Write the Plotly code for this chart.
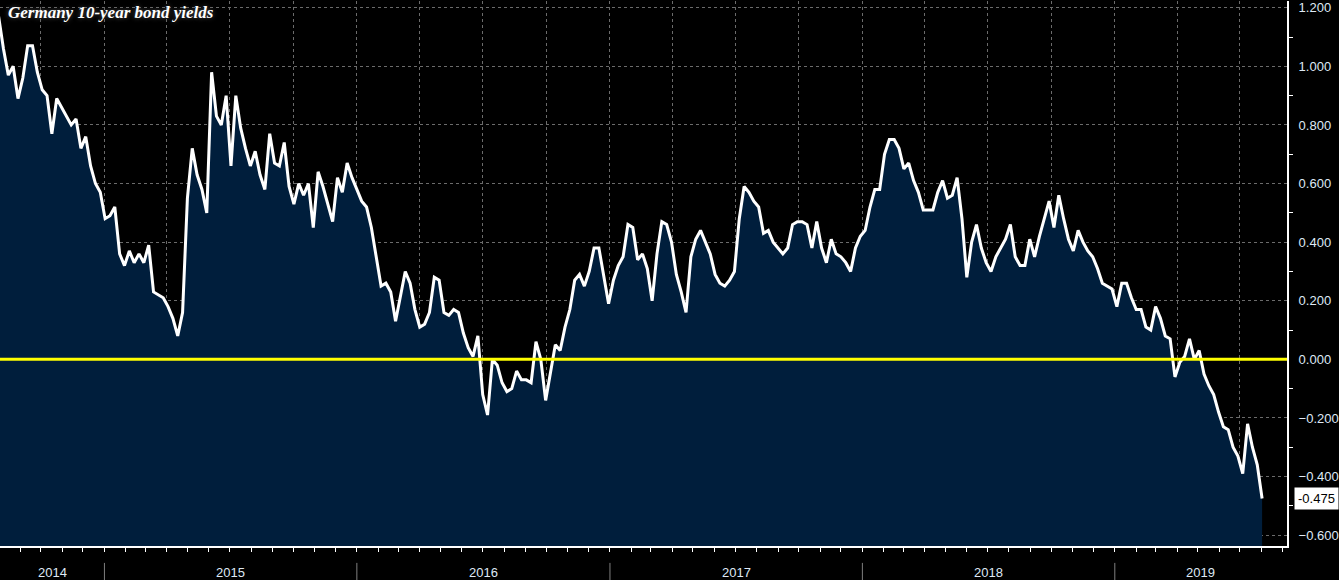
import pandas as pd
import plotly.graph_objects as go

title_text = "Germany 10-year bond yields"

# weekly (Friday) readings of the yield, in %
yields_2014 = [1.17, 1.06, 0.97, 1.00, 0.89, 0.96, 1.07, 1.07, 0.98, 0.92,
               0.90, 0.77, 0.89, 0.86, 0.83, 0.80, 0.82, 0.72, 0.76, 0.66,
               0.60, 0.57]
yields_2015 = [0.48, 0.49, 0.52, 0.36, 0.32, 0.37, 0.33, 0.36, 0.33, 0.39,
               0.23, 0.22, 0.21, 0.18, 0.14, 0.08, 0.16, 0.55, 0.72, 0.63,
               0.58, 0.50, 0.98, 0.83, 0.80, 0.90, 0.66, 0.90, 0.79, 0.72,
               0.66, 0.71, 0.63, 0.58, 0.77, 0.67, 0.66, 0.74, 0.59, 0.53,
               0.60, 0.56, 0.60, 0.45, 0.64, 0.59, 0.53, 0.47, 0.62, 0.57,
               0.67, 0.62]
yields_2016 = [0.58, 0.54, 0.52, 0.45, 0.35, 0.25, 0.26, 0.23, 0.13, 0.21,
               0.30, 0.26, 0.17, 0.11, 0.12, 0.16, 0.28, 0.27, 0.16, 0.15,
               0.17, 0.16, 0.09, 0.04, 0.01, 0.08, -0.12, -0.19, 0.00, -0.02,
               -0.08, -0.11, -0.10, -0.04, -0.07, -0.07, -0.08, 0.06, 0.00, -0.14,
               -0.05, 0.05, 0.03, 0.11, 0.17, 0.27, 0.29, 0.25, 0.30, 0.38,
               0.38, 0.28, 0.19]
yields_2017 = [0.27, 0.32, 0.35, 0.46, 0.45, 0.34, 0.36, 0.31, 0.20, 0.36,
               0.47, 0.46, 0.40, 0.29, 0.23, 0.16, 0.35, 0.41, 0.44, 0.40,
               0.36, 0.29, 0.26, 0.25, 0.27, 0.30, 0.48, 0.59, 0.57, 0.54,
               0.52, 0.43, 0.44, 0.40, 0.38, 0.36, 0.38, 0.46, 0.47, 0.47,
               0.46, 0.38, 0.47, 0.38, 0.33, 0.41, 0.36, 0.35, 0.33, 0.30,
               0.38, 0.42]
yields_2018 = [0.44, 0.52, 0.58, 0.58, 0.70, 0.75, 0.75, 0.72, 0.65, 0.67,
               0.61, 0.57, 0.51, 0.51, 0.51, 0.57, 0.61, 0.55, 0.56, 0.62,
               0.48, 0.28, 0.40, 0.46, 0.38, 0.33, 0.30, 0.35, 0.38, 0.41,
               0.46, 0.35, 0.32, 0.32, 0.41, 0.35, 0.42, 0.48, 0.54, 0.45,
               0.56, 0.48, 0.41, 0.37, 0.44, 0.40, 0.37, 0.35, 0.31, 0.26,
               0.25, 0.24]
yields_2019 = [0.18, 0.26, 0.26, 0.21, 0.17, 0.17, 0.11, 0.10, 0.18, 0.14,
               0.08, 0.07, -0.06, -0.01, 0.01, 0.07, 0.00, 0.03, -0.05, -0.09,
               -0.12, -0.18, -0.23, -0.24, -0.30, -0.33, -0.39, -0.22, -0.30, -0.36,
               -0.475]

week_ends = pd.date_range("2014-08-01", "2019-08-02", freq="W-FRI")
yields = yields_2014 + yields_2015 + yields_2016 + yields_2017 + yields_2018 + yields_2019

years = [2014, 2015, 2016, 2017, 2018, 2019]
y_ticks = [-0.6, -0.4, -0.2, 0.0, 0.2, 0.4, 0.6, 0.8, 1.0, 1.2]

x_range = [pd.Timestamp("2014-08-03"), pd.Timestamp("2019-09-07")]
y_range = [-0.637, 1.223]

label_color = "#dfe9f5"
grid_color = "#6b6b6b"

fig = go.Figure()

# invisible floor so the area is filled down to the bottom of the plot
fig.add_trace(go.Scatter(
    x=week_ends, y=[y_range[0]] * len(week_ends), mode="lines",
    line=dict(width=0, color="rgba(0,0,0,0)"), hoverinfo="skip", showlegend=False,
))
fig.add_trace(go.Scatter(
    x=week_ends, y=yields, mode="lines",
    line=dict(color="white", width=3),
    fill="tonexty", fillcolor="#001e3c",
    name="Germany 10Y", showlegend=False,
))

# little arrow heads on the right axis at each labelled tick
fig.add_trace(go.Scatter(
    x=[1.0035] * len(y_ticks), y=y_ticks, xaxis="x2", mode="markers",
    marker=dict(symbol="triangle-right", size=7, color="white"),
    cliponaxis=False, hoverinfo="skip", showlegend=False,
))
# pointer of the last value tag
fig.add_trace(go.Scatter(
    x=[1.0045], y=[yields[-1]], xaxis="x2", mode="markers",
    marker=dict(symbol="triangle-left", size=11, color="white"),
    cliponaxis=False, hoverinfo="skip", showlegend=False,
))

annotations = [
    dict(
        text=f"<b><i>{title_text}</i></b>", xref="paper", yref="paper", x=0, y=1,
        xanchor="left", yanchor="top", xshift=6, yshift=0, showarrow=False,
        font=dict(family="Liberation Serif", size=17, color="white",
                  shadow="0px 0px 5px #555"),
    ),
    dict(
        text=f"{yields[-1]:.3f}", xref="paper", yref="y", x=1, y=yields[-1],
        xanchor="left", yanchor="middle", xshift=7, showarrow=False,
        bgcolor="white", borderpad=3,
        font=dict(family="Liberation Sans", size=13, color="black"),
    ),
]
shapes = [
    dict(type="line", xref="paper", yref="y", x0=0, x1=1, y0=0, y1=0,
         line=dict(color="#ffff00", width=3), layer="above"),
]
for yr in years:
    start = max(pd.Timestamp(f"{yr}-01-01"), x_range[0])
    end = min(pd.Timestamp(f"{yr + 1}-01-01"), x_range[1])
    annotations.append(dict(
        text=str(yr), xref="x", yref="paper", x=start + (end - start) / 2, y=0,
        yanchor="middle", yshift=-26, showarrow=False,
        font=dict(family="Liberation Sans", size=13, color=label_color),
    ))
    if yr > years[0]:
        shapes.append(dict(
            type="line", xref="x", yref="paper", x0=start, x1=start,
            y0=-0.031, y1=-0.07, line=dict(color="#7f7f7f", width=1),
        ))

fig.update_layout(
    width=1339, height=580,
    paper_bgcolor="black", plot_bgcolor="black",
    margin=dict(l=0, r=49, t=0, b=34),
    showlegend=False,
    xaxis=dict(
        type="date", range=x_range,
        tick0="2014-01-01", dtick="M3",
        showticklabels=False, ticks="outside", ticklen=4, tickcolor="white",
        showgrid=True, gridcolor=grid_color, griddash="dot", gridwidth=1,
        minor=dict(tick0="2014-01-01", dtick="M1", ticks="outside", ticklen=4,
                   tickcolor="white", showgrid=False),
        showline=True, linecolor="white", linewidth=2,
        zeroline=False,
    ),
    xaxis2=dict(overlaying="x", range=[0, 1], visible=False),
    yaxis=dict(
        side="right", range=y_range,
        tickmode="array", tickvals=y_ticks, tickformat=".3f",
        ticks="outside", ticklen=7, tickcolor="rgba(0,0,0,0)",
        ticklabeloverflow="allow",
        tickfont=dict(family="Liberation Sans", size=13, color=label_color),
        showgrid=True, gridcolor=grid_color, griddash="dot", gridwidth=1,
        minor=dict(tickmode="linear", tick0=0.1, dtick=0.2, ticks="outside",
                   ticklen=4, tickcolor="white", showgrid=False),
        showline=True, linecolor="white", linewidth=2,
        zeroline=False,
    ),
    annotations=annotations,
    shapes=shapes,
)

# drop the browser's default page margin so the figure sits at the window corner
fig.write_html("out.html", config={"displayModeBar": False},
               post_script="document.body.style.margin='0';")
